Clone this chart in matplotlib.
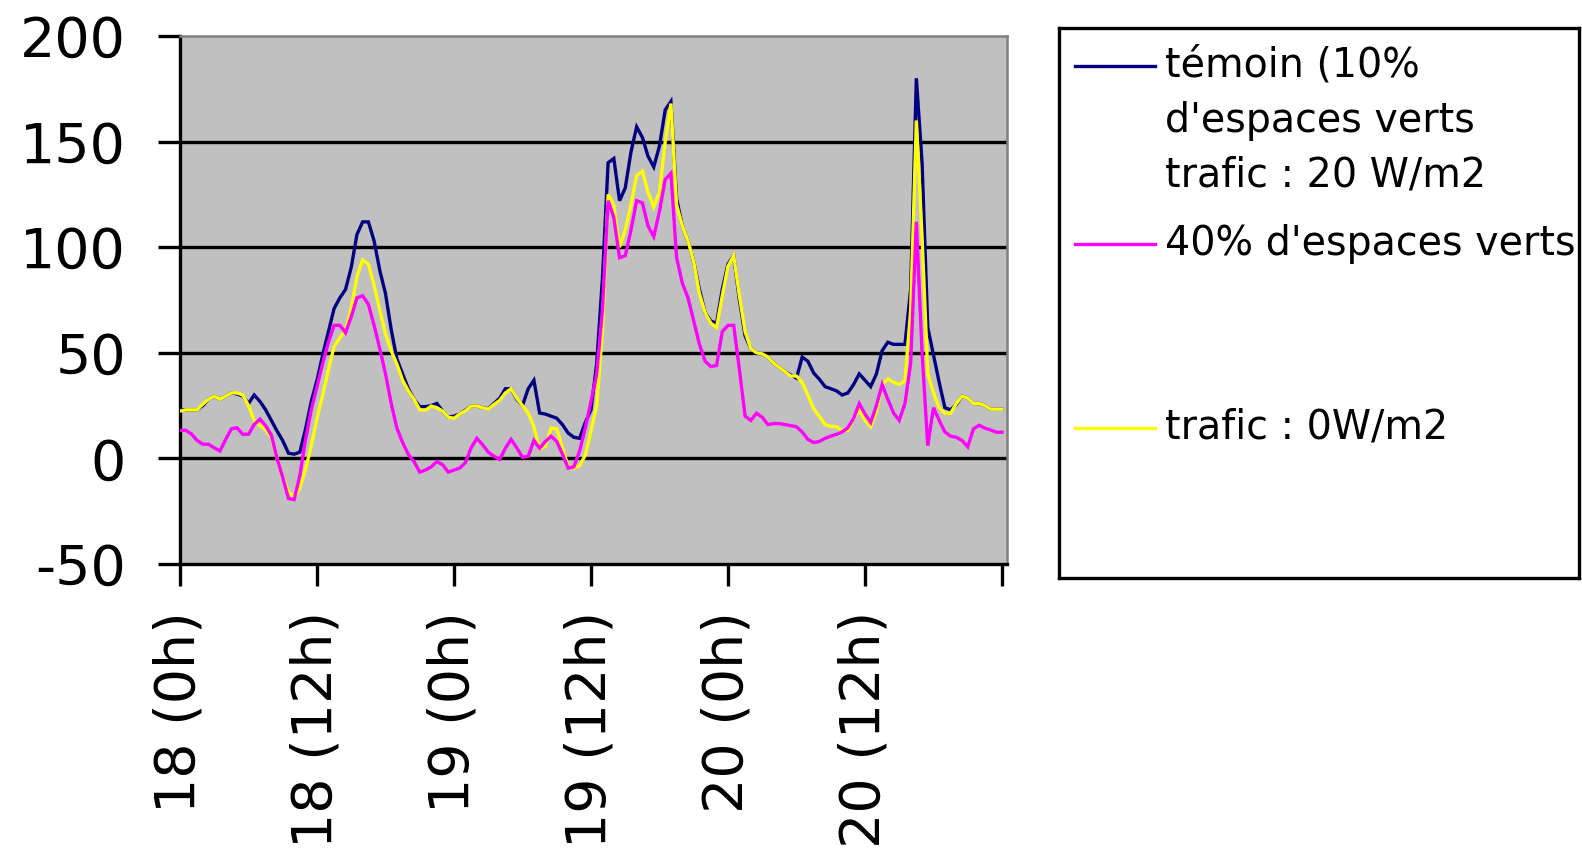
import matplotlib
matplotlib.use("Agg")
import matplotlib.pyplot as plt
import numpy as np
from matplotlib.lines import Line2D

plt.rcParams["axes.unicode_minus"] = False

# hours since day 18, 0h, every half hour
hours = np.arange(0, 72.01, 0.5)

temoin = [
    23, 23, 23, 23, 25, 28, 29.5, 28, 29.5, 31,
    30.5, 29.5, 26, 30, 27, 23, 18, 13, 8.4, 2.5,
    2, 3, 14, 27, 37, 49, 60, 71, 76, 80,
    90.5, 106, 112, 112, 103, 89, 78, 61, 47, 40,
    33, 28, 24.5, 24.5, 25, 26, 22.4, 19.5, 20, 21,
    22.8, 24.8, 24.8, 24, 23.5, 26, 28.5, 33, 33, 28,
    25, 33, 37, 21.5, 21, 20, 19, 16, 12, 10,
    9.5, 17, 23, 45, 85, 140, 142, 122, 128, 145,
    157, 152, 143, 138, 148, 165, 169, 123, 110, 103,
    93, 80, 69, 65, 64, 80, 92, 96, 75, 58,
    52, 50, 49.5, 48, 45, 43, 41, 39.5, 38, 48,
    46, 40.5, 37.5, 34, 33, 32, 30, 31, 35, 40,
    37, 34, 40, 51, 55, 54, 54, 54, 80, 180,
    140, 62, 49, 36, 24, 23, 25.5, 29.5, 28.6, 26,
    26, 25, 23.3, 23.3, 23.3,
]

espaces_40 = [
    13.3, 13.3, 11.6, 8.5, 6.7, 6.7, 5, 3.5, 9, 14,
    14.5, 11.4, 11.4, 16, 18.6, 15.5, 11, 0, -9, -19,
    -19.5, -8, 9, 23, 34, 45, 55, 63, 63, 59.5,
    67, 76, 77, 73, 63, 52, 40, 26, 14.3, 7.5,
    1.9, -1.5, -6.5, -5.5, -4, -1.5, -3, -6.5, -5.5, -4.6,
    -2, 5, 9.5, 6.5, 3, 1, -0.5, 4.8, 9, 5,
    0.5, 1, 8.5, 4.8, 8, 10.5, 8, 2, -4.6, -4,
    3.5, 14.3, 27, 40, 70, 122, 114, 95, 96, 108,
    122, 121, 110, 105, 117, 132, 135, 95, 83, 76,
    65, 54, 46, 43.5, 44, 60, 63, 63, 42, 20,
    18, 21.4, 19.5, 16, 16.5, 16.5, 16, 15.5, 15, 12.5,
    9, 7.5, 8, 9.5, 10.5, 11.4, 12.5, 14.5, 19, 26,
    21, 17, 25, 35, 28, 21.5, 18, 26, 45, 112,
    50, 6, 24, 18, 12.5, 10.5, 10, 8.5, 5.5, 14,
    15.7, 14.3, 13.5, 12.4, 12.4,
]

trafic_0 = [
    22.4, 23, 23, 23, 25.7, 28, 29.5, 28, 29.5, 31,
    31, 30, 25, 18, 15.5, 13.5, 10, 0, -9, -15.5,
    -18.5, -14, -5, 6, 19, 30, 42, 53, 57, 61,
    71, 86, 94, 92, 82, 70, 59, 51, 44.6, 37,
    32, 28, 23, 22.8, 24.8, 24, 22.4, 19.5, 19, 21,
    22.5, 24.8, 24.8, 24, 23.3, 25.5, 27.5, 31, 33, 28.5,
    25, 21.5, 15, 4.5, 5.7, 14.3, 14, 5, -3.8, -4.6,
    -3.5, 1.5, 13, 25, 60, 125, 120, 100, 108, 120,
    134, 136, 126, 119, 126, 150, 168, 120, 110, 103,
    93, 78, 69, 64, 62, 77, 91, 96, 77, 60,
    52, 50, 49.5, 48, 45, 43, 41, 39, 39, 36,
    30, 23.5, 20, 16, 15.2, 15, 13.3, 13.3, 19, 23,
    18, 15, 22, 35, 37.6, 36, 35, 36.7, 70, 160,
    105, 40, 31, 24, 21.4, 21.4, 26, 29.5, 28.6, 26,
    26, 25, 23.3, 23.3, 23.3,
]

x_ticks = [0, 12, 24, 36, 48, 60, 72]
x_labels = ["18 (0h)", "18 (12h)", "19 (0h)", "19 (12h)", "20 (0h)", "20 (12h)", ""]
y_ticks = [-50, 0, 50, 100, 150, 200]

NAVY, MAGENTA, YELLOW = "#000080", "#FF00FF", "#FFFF00"
LW = 2.4  # about 3 px

fig = plt.figure(figsize=(15.82, 8.57), dpi=100)
ax = fig.add_axes([180 / 1582, 293 / 857, 827 / 1582, 528 / 857])
ax.set_facecolor("#C0C0C0")

for lev in y_ticks[1:-1]:
    ax.axhline(lev, color="black", lw=LW, zorder=1)

ax.plot(hours, temoin, color=NAVY, lw=LW, zorder=3, solid_joinstyle="miter")
ax.plot(hours, trafic_0, color=YELLOW, lw=LW, zorder=4, solid_joinstyle="miter")
ax.plot(hours, espaces_40, color=MAGENTA, lw=LW, zorder=5, solid_joinstyle="miter")

ax.set_xlim(0, 72.44)
ax.set_ylim(-50, 200)
ax.set_yticks(y_ticks)
ax.set_xticks(x_ticks)
ax.set_xticklabels(x_labels, rotation=90, ha="center", va="top")

ax.tick_params(axis="both", direction="out", length=15.8, width=LW, color="black",
               labelsize=40)
ax.tick_params(axis="y", pad=23)
ax.tick_params(axis="x", pad=18)

for side in ("left", "bottom"):
    ax.spines[side].set_color("black")
    ax.spines[side].set_linewidth(LW)
for side in ("top", "right"):
    ax.spines[side].set_color("#808080")
    ax.spines[side].set_linewidth(1.8)

# legend box, drawn in pixel coordinates
lg = fig.add_axes([1059 / 1582, 279 / 857, 520 / 1582, 550 / 857])
lg.set_xlim(0, 520)
lg.set_ylim(550, 0)
lg.set_xticks([])
lg.set_yticks([])
for s in lg.spines.values():
    s.set_color("black")
    s.set_linewidth(LW)

entries = [
    (NAVY, 38, ["témoin (10%", "d'espaces verts", "trafic : 20 W/m2"]),
    (MAGENTA, 216, ["40% d'espaces verts"]),
    (YELLOW, 400, ["trafic : 0W/m2"]),
]
for col, ypos, lines in entries:
    lg.add_line(Line2D([16, 96], [ypos, ypos], color=col, lw=LW))
    for i, txt in enumerate(lines):
        lg.text(106, ypos + i * 55, txt, fontsize=28.5, va="center", ha="left")

fig.savefig("out.png", dpi=100)
